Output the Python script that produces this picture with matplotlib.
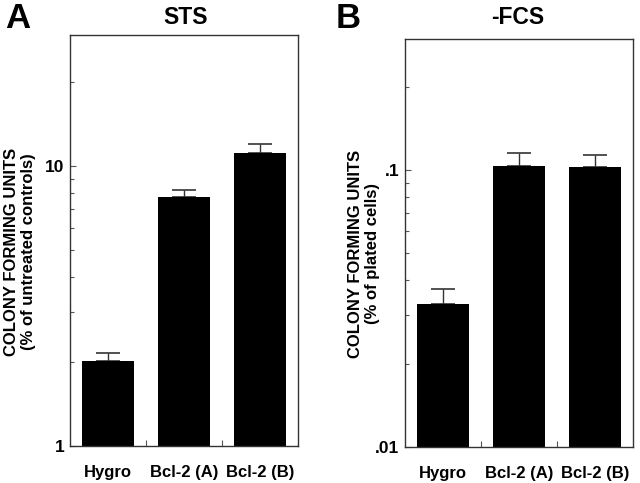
import numpy as np
import matplotlib.pyplot as plt
from matplotlib.ticker import FixedLocator, LogLocator, NullFormatter

plt.rcParams['font.family'] = ['Liberation Sans', 'DejaVu Sans']
plt.rcParams['font.weight'] = 'bold'

groups = ['Hygro', 'Bcl-2 (A)', 'Bcl-2 (B)']

# panel A: STS, % of untreated controls
sts_mean = [2.01, 7.75, 11.1]
sts_err = [0.14, 0.45, 0.9]

# panel B: -FCS, % of plated cells
fcs_mean = [0.0328, 0.1033, 0.1023]
fcs_err = [0.0044, 0.0117, 0.011]

W, H = 640, 483
fig = plt.figure(figsize=(W / 100, H / 100), dpi=100)


def px_axes(left, top, right, bottom):
    return fig.add_axes([left / W, 1 - bottom / H, (right - left) / W, (bottom - top) / H])


def draw_panel(ax, means, errs, ylim, major, major_labels):
    x = np.arange(len(groups))
    ax.bar(x, means, width=0.68, color='black', zorder=2)
    ax.errorbar(x, means, yerr=[np.zeros(len(errs)), errs], fmt='none',
                ecolor='#333333', elinewidth=1.0, capsize=8.5, capthick=1.2, zorder=1)
    ax.set_yscale('log')
    ax.set_ylim(*ylim)
    ax.set_xlim(-0.5, 2.5)
    ax.yaxis.set_major_locator(FixedLocator(major))
    ax.set_yticklabels(major_labels)
    ax.yaxis.set_minor_locator(LogLocator(base=10, subs=np.arange(2, 10)))
    ax.yaxis.set_minor_formatter(NullFormatter())
    ax.set_xticks(x)
    ax.set_xticklabels(groups)
    ax.set_xticks([0.5, 1.5], minor=True)
    ax.tick_params(axis='x', which='major', length=0, pad=14, labelsize=12)
    ax.tick_params(axis='x', which='minor', direction='in', length=4, width=0.8, color='#555555')
    ax.tick_params(axis='y', which='major', direction='in', length=4, width=0.8,
                   color='#555555', labelsize=12.5, pad=4)
    ax.tick_params(axis='y', which='minor', direction='in', length=3, width=0.8, color='#555555')
    for s in ax.spines.values():
        s.set_linewidth(1.0)
        s.set_color('#333333')


axA = px_axes(70, 35, 298, 446)
draw_panel(axA, sts_mean, sts_err, (1, 29.4), [1, 10], ['1', '10'])

axB = px_axes(405, 39, 633, 447)
draw_panel(axB, fcs_mean, fcs_err, (0.01, 0.297), [0.01, 0.1], ['.01', '.1'])


def ftext(x, y, s, **kw):
    fig.text(x / W, 1 - y / H, s, **kw)


ftext(5, 18, 'A', fontsize=25, ha='left', va='center')
ftext(186, 17, 'STS', fontsize=16.5, ha='center', va='center')
ftext(336, 18, 'B', fontsize=25, ha='left', va='center')
ftext(518, 18, '-FCS', fontsize=16.5, ha='center', va='center')

ftext(12, 252, 'COLONY FORMING UNITS', fontsize=12, rotation=90, ha='center', va='center')
ftext(29, 252, '(% of untreated controls)', fontsize=12, rotation=90, ha='center', va='center')
ftext(355, 254, 'COLONY FORMING UNITS', fontsize=12, rotation=90, ha='center', va='center')
ftext(372, 254, '(% of plated cells)', fontsize=12, rotation=90, ha='center', va='center')

fig.savefig('out.png', dpi=100)
